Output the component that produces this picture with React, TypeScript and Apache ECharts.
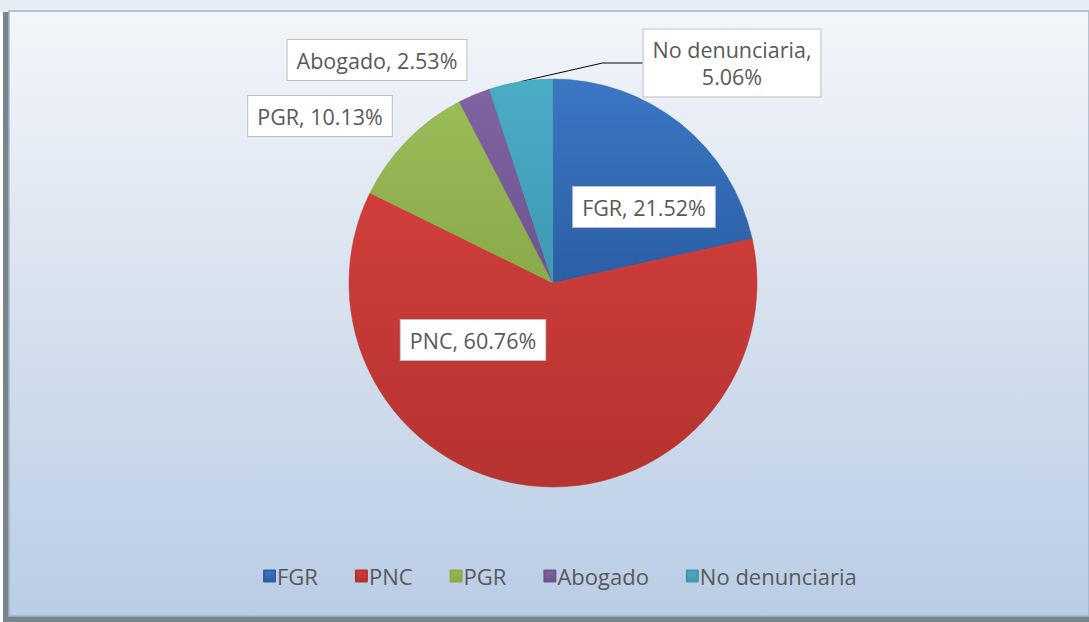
import React, { useEffect, useRef } from "react";
import * as echarts from "echarts";

const categories = ["FGR", "PNC", "PGR", "Abogado", "No denunciaria"];
const values = [21.52, 60.76, 10.13, 2.53, 5.06];
const colors = ["#3b77c4", "#d03e3b", "#9bbb59", "#8064a2", "#4bacc6"];
const darkColors = ["#2b5fa6", "#b53330", "#8aaa4a", "#6e5390", "#3e98b2"];
// label anchor positions (pixel centers)
const labelPos = [
  [644, 207],
  [473, 340],
  [320, 116],
  [377, 60],
  [732, 63],
];

export default function App() {
  const ref = useRef<HTMLDivElement>(null);
  useEffect(() => {
    const chart = echarts.init(ref.current!, undefined, { renderer: "svg" });
    const font = "'Open Sans', sans-serif";
    chart.setOption({
      animation: false,
      backgroundColor: "#ffffff",
      graphic: [
        { type: "rect", shape: { x: 0, y: 0, width: 1089, height: 12 }, style: { fill: "#e6edf4" }, z: -10 },
        { type: "rect", shape: { x: 3, y: 12, width: 1086, height: 610 }, style: { fill: "#7a848d" }, z: -10 },
        {
          type: "rect",
          shape: { x: 9, y: 11, width: 1080, height: 605 },
          style: {
            fill: new echarts.graphic.LinearGradient(0, 0, 0, 1, [
              { offset: 0, color: "#f3f6fa" },
              { offset: 0.5, color: "#d6e0ee" },
              { offset: 1, color: "#b9cde5" },
            ]),
            stroke: "#9fb6c8",
            lineWidth: 1.5,
          },
          z: -9,
        },
      ],
      legend: {
        bottom: 30,
        left: 258,
        itemWidth: 11,
        itemHeight: 11,
        itemGap: 37,
        icon: "rect",
        textStyle: { fontFamily: font, fontSize: 22, color: "#595959", padding: [0, 0, 0, -3] },
        data: categories,
      },
      series: [
        {
          type: "pie",
          center: [553, 283],
          radius: 204,
          startAngle: 90,
          clockwise: true,
          data: categories.map((c, i) => ({
            name: c,
            value: values[i],
            itemStyle: {
              color: new echarts.graphic.LinearGradient(0, 0, 0, 1, [
                { offset: 0, color: colors[i] },
                { offset: 1, color: darkColors[i] },
              ]),
              borderColor: darkColors[i],
              borderWidth: 0.5,
            },
            labelLine: { show: i === 4, length: 20, length2: 40, lineStyle: { color: "#000", width: 1 } },
          })),
          label: {
            show: true,
            position: "outside",
            formatter: (p: any) =>
              p.dataIndex === 4 ? `${p.name},\n${p.value.toFixed(2)}%` : `${p.name}, ${p.value.toFixed(2)}%`,
            fontFamily: font,
            fontSize: 21.5,
            lineHeight: 27,
            color: "#595959",
            backgroundColor: "#ffffff",
            borderColor: "#bfbfbf",
            borderWidth: 1,
            padding: [7, 9, 6, 9],
            align: "center",
          },
          labelLayout: (p: any) => ({
            x: labelPos[p.dataIndex][0],
            y: labelPos[p.dataIndex][1],
            align: "center",
            verticalAlign: "middle",
          }),
        },
      ],
    });
    return () => chart.dispose();
  }, []);
  return <div ref={ref} style={{ position: "fixed", left: 0, top: 0, width: 1089, height: 622 }} />;
}
